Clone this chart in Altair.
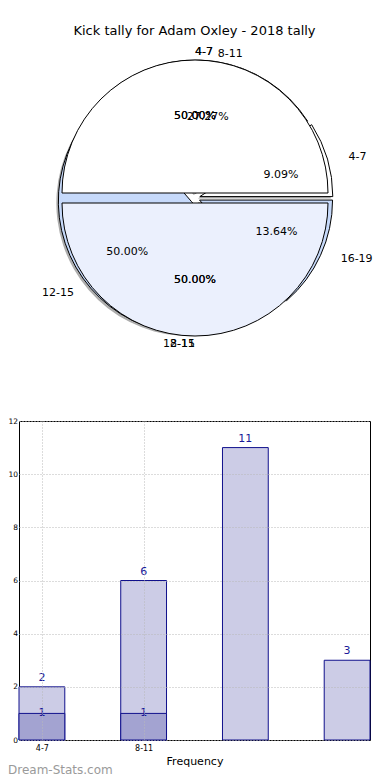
import json
import altair as alt
import pandas as pd

# ---------------- data ----------------
title_text = "Kick tally for Adam Oxley - 2018 tally"
categories = ["4-7", "8-11", "12-15", "16-19"]
kicks = [2, 6, 11, 3]
categories_b = ["4-7", "8-11"]
kicks_b = [1, 1]
labels_overlay = ["4-7", "12-15"]
x_title = "Frequency"
y_title = "Kick Tally"
watermark = "Dream-Stats.com"

# ---------------- style / layout ----------------
FONT = "DejaVu Sans"
W, H = 351, 319
CX, CY = 176, -223      # pie centre relative to the bar plot origin (px)
R = 133                 # wedge radius
RX, RY = 141, 128       # label ellipse radii
EXPLODE = 5
SHADOW = 2
colors_a = ["#ffffff", "#ffffff", "#c6d9fa", "#c6d9fa"]
colors_b = ["#ffffff", "#ebf0fd"]
HALF = 0.225

pie_rows = []
for i, (c, v) in enumerate(zip(categories, kicks)):
    pie_rows.append({"pie": "A", "order": i, "label": c, "value": v})
for i, (c, v) in enumerate(zip(categories_b, kicks_b)):
    pie_rows.append({"pie": "B", "order": i, "label": c, "value": v})
for i, (c, v) in enumerate(zip(labels_overlay, kicks_b)):
    pie_rows.append({"pie": "C", "order": i, "label": c, "value": v})
pie_df = pd.DataFrame(pie_rows)

base = (
    alt.Chart(pie_df)
    .transform_joinaggregate(total="sum(value)", groupby=["pie"])
    .transform_window(cum="sum(value)", groupby=["pie"],
                      sort=[alt.SortField("order")], frame=[None, 0])
    .transform_calculate(a0="2*PI*(datum.cum - datum.value)/datum.total")
    .transform_calculate(a1="2*PI*datum.cum/datum.total")
    .transform_calculate(mid="(datum.a0 + datum.a1)/2")
    .transform_calculate(th0="2.5*PI - datum.a1")
    .transform_calculate(th1="2.5*PI - datum.a0")
    .transform_calculate(ex=f"{CX} + {EXPLODE}*cos(datum.mid)")
    .transform_calculate(ey=f"{CY} - {EXPLODE}*sin(datum.mid)")
    .transform_calculate(sx=f"datum.ex - {SHADOW}")
    .transform_calculate(sy=f"datum.ey + {SHADOW}")
    .transform_calculate(px=f"datum.ex + 0.6*{RX}*cos(datum.mid)")
    .transform_calculate(py=f"datum.ey - 0.6*{RY}*sin(datum.mid)")
    .transform_calculate(lx=f"datum.ex + 1.1*{RX}*cos(datum.mid)")
    .transform_calculate(ly=f"datum.ey - 1.1*{RY}*sin(datum.mid)")
    .transform_calculate(pct="format(100*datum.value/datum.total, '.2f') + '%'")
    .transform_calculate(
        fillc=f"datum.pie == 'A' ? {json.dumps(colors_a)}[datum.order] : {json.dumps(colors_b)}[datum.order]"
    )
)

def px(field):
    return alt.X(f"{field}:Q", scale=None, axis=None)

def py(field):
    return alt.Y(f"{field}:Q", scale=None, axis=None)

shadow = base.transform_filter("datum.pie == 'A'").mark_arc(
    radius=R, fill="#333333", opacity=0.4
).encode(x=px("sx"), y=py("sy"),
         theta=alt.Theta("th0:Q", scale=None), theta2=alt.Theta2("th1"))

arcs_a = base.transform_filter("datum.pie == 'A'").mark_arc(
    radius=R, stroke="black", strokeWidth=1
).encode(x=px("ex"), y=py("ey"),
         theta=alt.Theta("th0:Q", scale=None), theta2=alt.Theta2("th1"),
         fill=alt.Fill("fillc:N", scale=None))

arcs_b = base.transform_filter("datum.pie == 'B'").mark_arc(
    radius=R, stroke="black", strokeWidth=1
).encode(x=px("ex"), y=py("ey"),
         theta=alt.Theta("th0:Q", scale=None), theta2=alt.Theta2("th1"),
         fill=alt.Fill("fillc:N", scale=None))

pct_text = base.mark_text(font=FONT, fontSize=11, color="black",
                          align="center", baseline="middle").encode(
    x=px("px"), y=py("py"), text="pct:N")

lab_right = base.transform_filter("cos(datum.mid) > 0").mark_text(
    font=FONT, fontSize=11, color="black", align="left", baseline="middle"
).encode(x=px("lx"), y=py("ly"), text="label:N")

lab_left = base.transform_filter("cos(datum.mid) <= 0").mark_text(
    font=FONT, fontSize=11, color="black", align="right", baseline="middle"
).encode(x=px("lx"), y=py("ly"), text="label:N")

# ---------------- bars ----------------
bar_rows = []
for i, v in enumerate(kicks):
    bar_rows.append({"series": "all", "idx": i, "value": v})
for i, v in enumerate(kicks_b):
    bar_rows.append({"series": "b", "idx": i, "value": v})
bar_df = pd.DataFrame(bar_rows)

xscale = alt.Scale(domain=[-HALF, 3 + HALF], nice=False, zero=False)
yscale = alt.Scale(domain=[0, 12], nice=False)

x_axis = alt.Axis(values=list(range(len(categories_b))),
                  labelExpr=f"{json.dumps(categories_b)}[datum.value]",
                  title=x_title, grid=True, gridDash=[1, 2], gridColor="#b8b8b8",
                  domain=False, ticks=False, labelFontSize=8, labelPadding=4,
                  titleFontSize=11, titleFontWeight="normal", titlePadding=3,
                  labelColor="black", titleColor="black", zindex=1)
y_axis = alt.Axis(values=[0, 2, 4, 6, 8, 10, 12], title=y_title,
                  grid=True, gridDash=[1, 2], gridColor="#b8b8b8",
                  domain=False, ticks=False, labelFontSize=7.5, labelPadding=1.5,
                  titleFontSize=11, titleFontWeight="normal",
                  labelColor="black", titleColor="black", zindex=1)

bar_base = (
    alt.Chart(bar_df)
    .transform_calculate(x0=f"datum.idx - {HALF}", x1=f"datum.idx + {HALF}")
)

bars_all = bar_base.transform_filter("datum.series == 'all'").mark_rect(
    fill="#ccccE6", stroke="#10108c", strokeWidth=1
).encode(x=alt.X("x0:Q", scale=xscale, axis=x_axis), x2="x1:Q",
         y=alt.Y("value:Q", scale=yscale, axis=y_axis), y2=alt.datum(0))

bars_b = bar_base.transform_filter("datum.series == 'b'").mark_rect(
    fill="#a3a3d1", stroke="#10108c", strokeWidth=1
).encode(x=alt.X("x0:Q"), x2="x1:Q", y=alt.Y("value:Q"), y2=alt.datum(0))

lbl_all = bar_base.transform_filter("datum.series == 'all'").mark_text(
    font=FONT, fontSize=11, color="#1a1a99", baseline="middle", dy=-9
).encode(x=alt.X("idx:Q"), y=alt.Y("value:Q"), text="value:Q")

lbl_b = bar_base.transform_filter("datum.series == 'b'").mark_text(
    font=FONT, fontSize=11, color="#1a1a99", baseline="middle", dy=0
).encode(x=alt.X("idx:Q"), y=alt.Y("value:Q"), text="value:Q")

wm = alt.Chart(pd.DataFrame({"t": [watermark]})).mark_text(
    font=FONT, fontSize=12, color="#9a9a9a", align="left", baseline="middle"
).encode(x=alt.value(-11), y=alt.value(349), text="t:N")

chart = (
    alt.layer(shadow, arcs_a, arcs_b, pct_text, lab_right, lab_left,
              bars_all, bars_b, lbl_all, lbl_b, wm)
    .properties(
        width=W, height=H,
        title=alt.TitleParams(title_text, anchor="middle", fontSize=13,
                              font=FONT, fontWeight="normal", color="black",
                              offset=8, frame="group"),
        autosize=alt.AutoSizeParams(type="none"),
        padding={"left": 11, "top": 413, "right": 12, "bottom": 38},
    )
    .configure(font=FONT)
    .configure_view(stroke="black", strokeWidth=1)
)

chart.save("out.html", embed_options={"renderer": "svg", "actions": False})
